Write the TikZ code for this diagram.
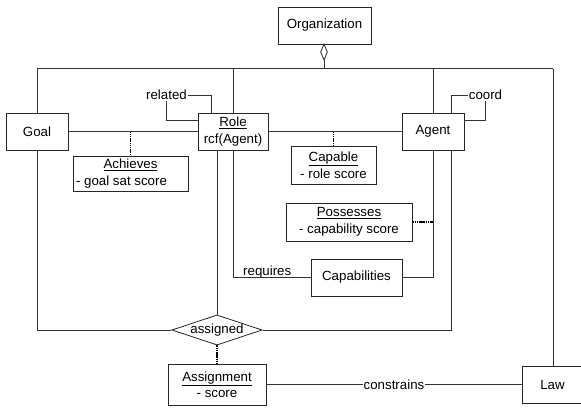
\documentclass[tikz,border=0pt]{standalone}
\usepackage{fontspec}
\setmainfont{Liberation Sans}
\usetikzlibrary{shapes.geometric}
\begin{document}
\begin{tikzpicture}[x=1pt,y=-1pt,
  every node/.style={font=\fontsize{13.3}{16.5}\selectfont},
  box/.style={draw=black!85, line width=0.8pt, fill=white, inner sep=0pt, align=center},
  ln/.style={draw=black!80, line width=0.8pt},
  dl/.style={draw=black, line width=1.7pt, dash pattern=on 1.5pt off 0.7pt},
  lbl/.style={inner sep=1pt}]
\useasboundingbox (0,0) rectangle (581,408);
% boxes
\node[box, minimum width=93pt, minimum height=37pt] (org) at (324.5,25.5) {Organization};
\node[draw=black!85, line width=0.8pt, fill=white, diamond, inner sep=0pt, minimum width=7pt, minimum height=16pt] (orgdia) at (324,52) {};
\node[box, minimum width=62pt, minimum height=37pt] (goal) at (37,131.5) {Goal};
\node[box, minimum width=70pt, minimum height=37pt] (role) at (233,131.5) {\underline{Role}\\rcf(Agent)};
\node[box, minimum width=62pt, minimum height=37pt] (agent) at (433,131.5) {Agent};
\node[box, minimum width=115pt, minimum height=35pt] (ach) at (130.5,173.5) {\underline{Achieves}\\- goal sat score\hspace*{18pt}};
\node[box, minimum width=85pt, minimum height=38pt] (cap) at (333.5,165) {\underline{Capable}\\- role score};
\node[box, minimum width=126pt, minimum height=38pt] (pos) at (349,222) {\underline{Possesses}\\- capability score};
\node[box, minimum width=91pt, minimum height=37pt] (caps) at (356.5,277.5) {Capabilities};
\node[box, diamond, aspect=3, minimum width=89pt, minimum height=30pt] (asg) at (217,330) {assigned};
\node[box, minimum width=98pt, minimum height=41pt] (asn) at (217,384.5) {\underline{Assignment}\\- score};
\node[box, minimum width=61pt, minimum height=37pt] (law) at (552.5,384.5) {Law};
% labels
\node[lbl] (rel) at (166.5,95) {related};
\node[lbl] (coord) at (485.5,95) {coord};
\node[anchor=base west, inner sep=0pt] (req) at (243,275) {requires};
% bus coordinates
\coordinate (tl) at (37,68.5);
\coordinate (tr) at (553,68.5);
% lines
\draw[ln] (tl) -- (tr);
\draw[ln] (orgdia.south) -- (orgdia.south |- tl);
\draw[ln] (tl) -- (goal.north);
\draw[ln] (goal.south) -- (goal.south |- asg) -- (asg.west);
\draw[ln] (role.north |- tl) -- (role.north);
\draw[ln] (role.south) -- (role.south |- caps) -- (caps.west);
\draw[ln] (asg.north |- role.south) -- (asg.north);
\draw[ln] (agent.north |- tl) -- (agent.north);
\draw[ln] (agent.south) -- (agent.south |- caps) -- (caps.east);
\draw[ln] ([xshift=18pt]agent.south) -- ([xshift=18pt]agent.south |- asg) -- (asg.east);
\draw[ln] (tr) -- (tr |- law.north);
\draw[ln] (goal) -- (role);
\draw[ln] (role) -- (agent);
% self loops
\draw[ln] ([xshift=-22pt]role.north) -- ([xshift=-22pt]role.north |- rel) -- (rel.east);
\draw[ln] (rel.south) -- (rel.south |- 0,120) -- (role.west |- 0,120);
\draw[ln] ([xshift=18pt]agent.north) -- ([xshift=18pt]agent.north |- coord) -- (coord.west);
\draw[ln] (coord.south) -- (coord.south |- 0,120) -- (agent.east |- 0,120);
% dashed links
\draw[dl] (ach.north |- goal) -- (ach.north);
\draw[dl] (cap.north |- role) -- (cap.north);
\draw[dl] (pos.east) -- (pos.east -| agent.south);
\draw[dl] (asg.south) -- (asn.north);
% constrains
\draw[ln] (asn) -- node[fill=white, inner sep=1pt] (con) {constrains} (law);
\end{tikzpicture}
\end{document}
